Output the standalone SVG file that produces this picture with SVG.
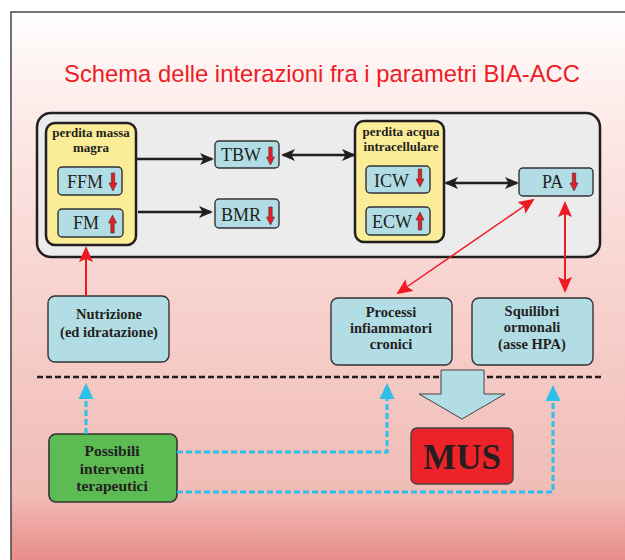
<svg xmlns="http://www.w3.org/2000/svg" width="625" height="560" viewBox="0 0 625 560">
<defs>
<linearGradient id="bg" x1="0" y1="12" x2="0" y2="560" gradientUnits="userSpaceOnUse">
<stop offset="0" stop-color="#ffffff"/>
<stop offset="0.15" stop-color="#fdeeec"/>
<stop offset="0.5" stop-color="#f8d3cf"/>
<stop offset="0.88" stop-color="#f0bcb6"/>
<stop offset="1" stop-color="#e98c8a"/>
</linearGradient>
<marker id="ah-black" viewBox="0 0 14 12" refX="12" refY="6" markerWidth="14" markerHeight="12" markerUnits="userSpaceOnUse" orient="auto-start-reverse">
<path d="M0,0 L14,6 L0,12 L3.5,6 z" fill="#231f20"/>
</marker>
<marker id="ah-red" viewBox="0 0 16 14" refX="14" refY="7" markerWidth="16" markerHeight="14" markerUnits="userSpaceOnUse" orient="auto-start-reverse">
<path d="M0,0 L16,7 L0,14 L3,7 z" fill="#ed1c24"/>
</marker>
<path id="dn" d="M-1.7,0 L1.7,0 L1.7,10 L4,10 L0,18 L-4,10 L-1.7,10 z" fill="#ed1c24" stroke="#333" stroke-width="0.6"/>
<path id="up" d="M-1.7,18 L1.7,18 L1.7,8 L4,8 L0,0 L-4,8 L-1.7,8 z" fill="#ed1c24" stroke="#333" stroke-width="0.6"/>
</defs>
<style>
.lbl{font-family:"Liberation Serif","Times New Roman",serif;font-size:18px;fill:#231f20}
.bold{font-family:"Liberation Serif","Times New Roman",serif;font-weight:bold;fill:#231f20;text-anchor:middle}
.small{fill:#b3dde5;stroke:#333;stroke-width:1.4}
.yellow{fill:#fbec98;stroke:#231f20;stroke-width:2.5}
.blk{stroke:#231f20;stroke-width:2.5;fill:none}
.red{stroke:#ed1c24;fill:none}
.blue{stroke:#2fc0ea;stroke-width:3;stroke-dasharray:6 3;fill:none}
</style>
<rect x="0" y="0" width="625" height="560" fill="#ffffff"/>
<rect x="11" y="12" width="620" height="560" fill="url(#bg)" stroke="#444" stroke-width="1.5"/>
<text x="322" y="82" font-family="'Liberation Sans',Arial,sans-serif" font-size="24.5" fill="#ee1c25" text-anchor="middle" textLength="516" lengthAdjust="spacingAndGlyphs">Schema delle interazioni fra i parametri BIA-ACC</text>

<g id="main-panel">
<rect x="37" y="113" width="563" height="144" rx="14" fill="#ececec" stroke="#231f20" stroke-width="2.5"/>
</g>

<g id="perdita-massa-magra">
<rect class="yellow" x="46" y="123" width="90" height="122" rx="9"/>
<text class="bold" x="91" y="137" font-size="13">perdita massa</text>
<text class="bold" x="91" y="152" font-size="13">magra</text>
</g>
<g id="FFM">
<rect class="small" x="58" y="167" width="64" height="28" rx="4"/>
<text class="lbl" x="67" y="188">FFM</text>
<use href="#dn" x="113" y="173"/>
</g>
<g id="FM">
<rect class="small" x="58" y="209" width="65" height="28" rx="4"/>
<text class="lbl" x="73" y="229">FM</text>
<use href="#up" x="112.5" y="215"/>
</g>
<g id="TBW">
<rect class="small" x="215" y="141" width="64" height="27" rx="4"/>
<text class="lbl" x="221" y="161">TBW</text>
<use href="#dn" x="270.5" y="147"/>
</g>
<g id="BMR">
<rect class="small" x="215" y="199" width="64" height="29" rx="4"/>
<text class="lbl" x="221" y="221">BMR</text>
<use href="#dn" x="270.5" y="207"/>
</g>
<g id="perdita-acqua-intracellulare">
<rect class="yellow" x="355" y="121" width="89" height="121" rx="9"/>
<text class="bold" x="401" y="136" font-size="13">perdita acqua</text>
<text class="bold" x="401" y="151" font-size="13">intracellulare</text>
</g>
<g id="ICW">
<rect class="small" x="366" y="166" width="64" height="27" rx="4"/>
<text class="lbl" x="374" y="187">ICW</text>
<use href="#dn" x="420" y="169"/>
</g>
<g id="ECW">
<rect class="small" x="366" y="207" width="64" height="28" rx="4"/>
<text class="lbl" x="372" y="228">ECW</text>
<use href="#up" x="420" y="212"/>
</g>
<g id="PA">
<rect class="small" x="519" y="168" width="74" height="28" rx="4"/>
<text class="lbl" x="542" y="188">PA</text>
<use href="#dn" x="574" y="173"/>
</g>

<g id="Nutrizione">
<rect class="small" x="48" y="296" width="121" height="66" rx="7" stroke-width="1.6"/>
<text class="bold" x="109" y="319" font-size="14.5">Nutrizione</text>
<text class="bold" x="109" y="337" font-size="14.5">(ed idratazione)</text>
</g>
<g id="Processi">
<rect class="small" x="331" y="298" width="121" height="67" rx="7" stroke-width="1.6"/>
<text class="bold" x="391" y="317" font-size="14.5">Processi</text>
<text class="bold" x="391" y="333" font-size="14.5">infiammatori</text>
<text class="bold" x="391" y="349" font-size="14.5">cronici</text>
</g>
<g id="Squilibri">
<rect class="small" x="472" y="298" width="121" height="67" rx="7" stroke-width="1.6"/>
<text class="bold" x="532" y="316" font-size="14.5">Squilibri</text>
<text class="bold" x="532" y="332" font-size="14.5">ormonali</text>
<text class="bold" x="532" y="349" font-size="14.5">(asse HPA)</text>
</g>

<g id="separator">
<line x1="37" y1="377" x2="603" y2="377" stroke="#231f20" stroke-width="2.5" stroke-dasharray="6 3"/>
</g>

<g id="big-arrow">
<polygon points="441,370 484,370 484,394 505,394 462,419 419,394 441,394" fill="#b3dde5" stroke="#444" stroke-width="1"/>
</g>

<g id="MUS">
<rect x="411" y="428" width="102" height="56" rx="6" fill="#ee2229" stroke="#444" stroke-width="1.4"/>
<text class="bold" x="462" y="469" font-size="35">MUS</text>
</g>

<g id="Possibili">
<rect x="49" y="434" width="128" height="68" rx="7" fill="#5cbb52" stroke="#333" stroke-width="1.6"/>
<text class="bold" x="112" y="456" font-size="15.5">Possibili</text>
<text class="bold" x="112" y="474" font-size="15.5">interventi</text>
<text class="bold" x="112" y="491" font-size="15.5">terapeutici</text>
</g>

<g id="connectors">
<line class="blk" x1="137" y1="159" x2="212" y2="159" marker-end="url(#ah-black)"/>
<line class="blk" x1="138" y1="212" x2="211" y2="212" marker-end="url(#ah-black)"/>
<line class="blk" x1="283" y1="155" x2="354" y2="155" marker-start="url(#ah-black)" marker-end="url(#ah-black)"/>
<line class="blk" x1="446" y1="183" x2="517" y2="183" marker-start="url(#ah-black)" marker-end="url(#ah-black)"/>
<line class="red" stroke-width="2" x1="86" y1="296" x2="86" y2="248" marker-end="url(#ah-red)"/>
<line class="red" stroke-width="1.5" x1="398" y1="293" x2="533" y2="200" marker-start="url(#ah-red)" marker-end="url(#ah-red)"/>
<line class="red" stroke-width="2" x1="565" y1="203" x2="565" y2="291" marker-start="url(#ah-red)" marker-end="url(#ah-red)"/>
<polyline class="blue" points="86,434 86,396"/>
<polyline class="blue" points="177,452 387,452 387,396"/>
<polyline class="blue" points="177,492 553,492 553,398"/>
<polygon points="78.5,399 93.5,399 86,383" fill="#2fc0ea"/>
<polygon points="379.5,399 394.5,399 387,383" fill="#2fc0ea"/>
<polygon points="545.5,401 560.5,401 553,385" fill="#2fc0ea"/>
</g>
</svg>
